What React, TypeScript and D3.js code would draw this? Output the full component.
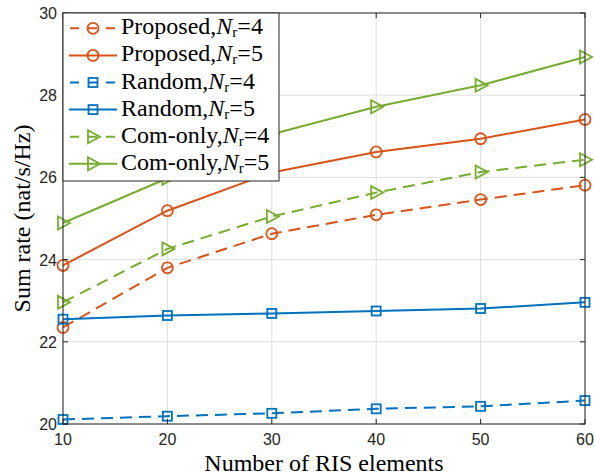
import React from 'react';
import * as d3 from 'd3';

const elements = [10, 20, 30, 40, 50, 60];
const proposedNr4 = [22.35, 23.8, 24.63, 25.09, 25.46, 25.81];
const proposedNr5 = [23.86, 25.19, 26.12, 26.62, 26.94, 27.41];
const randomNr4 = [20.11, 20.19, 20.26, 20.37, 20.43, 20.57];
const randomNr5 = [22.55, 22.64, 22.69, 22.75, 22.81, 22.96];
const comOnlyNr4 = [22.96, 24.26, 25.05, 25.63, 26.13, 26.43];
const comOnlyNr5 = [24.89, 25.98, 27.05, 27.72, 28.24, 28.93];
const xTicks = [10, 20, 30, 40, 50, 60];
const yTicks = [20, 22, 24, 26, 28, 30];

const ORANGE = '#D95319';
const BLUE = '#0072BD';
const GREEN = '#77AC30';

const series = [
  { name: 'Proposed', nr: 4, values: proposedNr4, color: ORANGE, dashed: true, marker: 'circle' },
  { name: 'Proposed', nr: 5, values: proposedNr5, color: ORANGE, dashed: false, marker: 'circle' },
  { name: 'Random', nr: 4, values: randomNr4, color: BLUE, dashed: true, marker: 'square' },
  { name: 'Random', nr: 5, values: randomNr5, color: BLUE, dashed: false, marker: 'square' },
  { name: 'Com-only', nr: 4, values: comOnlyNr4, color: GREEN, dashed: true, marker: 'triangle' },
  { name: 'Com-only', nr: 5, values: comOnlyNr5, color: GREEN, dashed: false, marker: 'triangle' },
];

const W = 595;
const H = 476;
const margin = { left: 63, right: 10, top: 13, bottom: 52 };
const serif = { fontFamily: "'Liberation Serif', 'Times New Roman', serif" };
const sans = { fontFamily: "'Liberation Sans', Arial, sans-serif" };

function Marker({ type, x, y, color }: { type: string; x: number; y: number; color: string }) {
  if (type === 'circle') {
    return <circle cx={x} cy={y} r={5.5} fill="none" stroke={color} strokeWidth={1.8} />;
  }
  if (type === 'square') {
    return <rect x={x - 4.5} y={y - 4.5} width={9} height={9} fill="none" stroke={color} strokeWidth={1.8} />;
  }
  // right-pointing triangle
  const pts = [[x - 5, y - 6.5], [x + 7, y], [x - 5, y + 6.5]].map(p => p.join(',')).join(' ');
  return <polygon points={pts} fill="none" stroke={color} strokeWidth={1.8} strokeLinejoin="miter" />;
}

export default function App() {
  const x = d3.scaleLinear().domain([10, 60]).range([margin.left, W - margin.right]);
  const y = d3.scaleLinear().domain([20, 30]).range([H - margin.bottom, margin.top]);
  const x0 = x.range()[0], x1 = x.range()[1];
  const y0 = y.range()[0], y1 = y.range()[1];

  const line = d3.line<number>()
    .x((_, i) => x(elements[i]))
    .y(d => y(d));

  const legendX = x0;
  const legendY = y1;
  const legendW = 216;
  const rowH = 27.1;
  const legendH = 168;

  return (
    <svg width={W} height={H} style={{ position: 'absolute', left: 0, top: 0, background: '#fff' }}>
      <rect width={W} height={H} fill="#fff" />
      {/* grid */}
      {xTicks.map(t => (
        <line key={'gx' + t} x1={x(t)} x2={x(t)} y1={y0} y2={y1} stroke="#dfdfdf" strokeWidth={1} />
      ))}
      {yTicks.map(t => (
        <line key={'gy' + t} x1={x0} x2={x1} y1={y(t)} y2={y(t)} stroke="#dfdfdf" strokeWidth={1} />
      ))}

      {/* series */}
      {series.map((s, k) => (
        <g key={'s' + k}>
          <path d={line(s.values) || ''} fill="none" stroke={s.color} strokeWidth={2}
            strokeDasharray={s.dashed ? '12,7' : undefined} />
          {s.values.map((v, i) => (
            <Marker key={i} type={s.marker} x={x(elements[i])} y={y(v)} color={s.color} />
          ))}
        </g>
      ))}

      {/* axes box and ticks */}
      <rect x={x0} y={y1} width={x1 - x0} height={y0 - y1} fill="none" stroke="#262626" strokeWidth={1} />
      {xTicks.map(t => (
        <g key={'tx' + t}>
          <line x1={x(t)} x2={x(t)} y1={y0} y2={y0 - 5} stroke="#262626" />
          <line x1={x(t)} x2={x(t)} y1={y1} y2={y1 + 5} stroke="#262626" />
          <text x={x(t)} y={y0 + 21} textAnchor="middle" style={sans} fontSize={16} fill="#262626">{t}</text>
        </g>
      ))}
      {yTicks.map(t => (
        <g key={'ty' + t}>
          <line x1={x0} x2={x0 + 5} y1={y(t)} y2={y(t)} stroke="#262626" />
          <line x1={x1} x2={x1 - 5} y1={y(t)} y2={y(t)} stroke="#262626" />
          <text x={x0 - 6} y={y(t) + 6} textAnchor="end" style={sans} fontSize={16} fill="#262626">{t}</text>
        </g>
      ))}

      {/* axis labels */}
      <text x={(x0 + x1) / 2} y={471} textAnchor="middle" style={serif} fontSize={24} fill="#000">
        Number of RIS elements
      </text>
      <text transform={`translate(30,${(y0 + y1) / 2}) rotate(-90)`} textAnchor="middle"
        style={serif} fontSize={24} fill="#000">
        Sum rate (nat/s/Hz)
      </text>

      {/* legend */}
      <g>
        <rect x={legendX} y={legendY} width={legendW} height={legendH} fill="#fff" stroke="#262626" strokeWidth={1} />
        {series.map((s, k) => {
          const cy = legendY + 15.3 + k * rowH;
          return (
            <g key={'l' + k}>
              <line x1={legendX + 6} x2={legendX + 54} y1={cy} y2={cy} stroke={s.color} strokeWidth={2}
                strokeDasharray={s.dashed ? '9,9' : undefined} strokeDashoffset={s.dashed ? -1 : 0} />
              <Marker type={s.marker} x={legendX + 30} y={cy} color={s.color} />
              <text x={legendX + 58} y={cy + 6} style={serif} fontSize={24} fill="#000">
                {s.name},<tspan fontStyle="italic">N</tspan>
                <tspan fontSize={15} dy={3}>r</tspan>
                <tspan dy={-3}>=</tspan>{s.nr}
              </text>
            </g>
          );
        })}
      </g>
    </svg>
  );
}
